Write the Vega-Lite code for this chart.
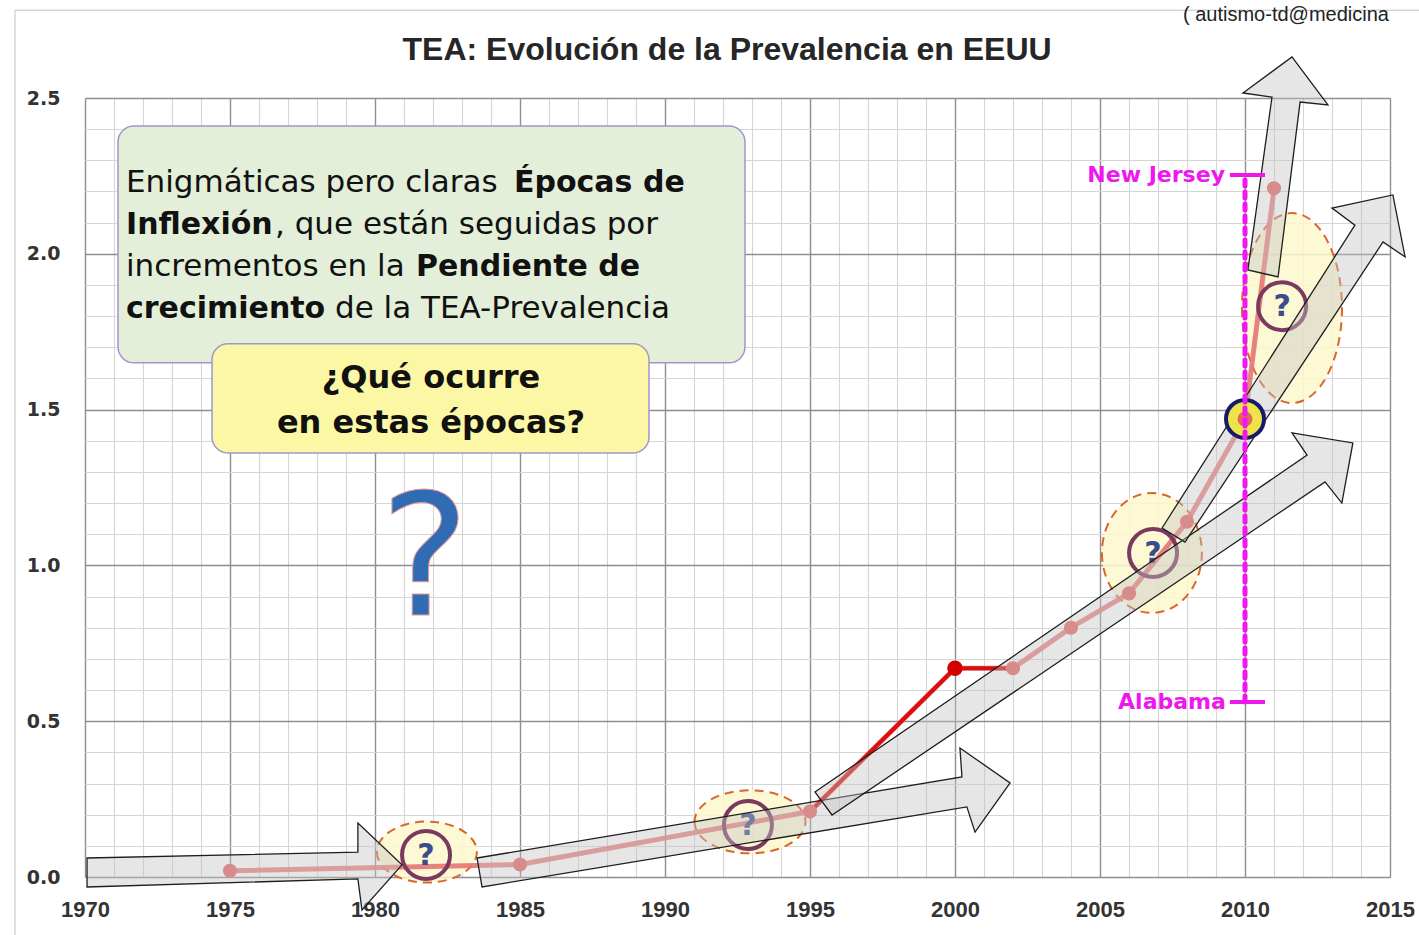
{
  "$schema": "https://vega.github.io/schema/vega-lite/v6.json",
  "width": 1305,
  "height": 779,
  "autosize": "none",
  "padding": {"left": 85, "top": 98, "right": 29, "bottom": 58},
  "background": "white",
  "config": {"view": {"stroke": null}},
  "datasets": {
    "serie": [
      {"year": 1975, "value": 0.02},
      {"year": 1985, "value": 0.04},
      {"year": 1995, "value": 0.21},
      {"year": 2000, "value": 0.67},
      {"year": 2002, "value": 0.67},
      {"year": 2004, "value": 0.80},
      {"year": 2006, "value": 0.91},
      {"year": 2008, "value": 1.14},
      {"year": 2010, "value": 1.47},
      {"year": 2011, "value": 2.21}
    ],
    "pico": [
      {"year": 1995, "value": 0.21},
      {"year": 2000, "value": 0.67},
      {"year": 2002, "value": 0.67}
    ],
    "flechas": [
      {"flecha": "A", "i": 1, "year": 1970.07, "value": 0.061},
      {"flecha": "A", "i": 2, "year": 1979.41, "value": 0.080},
      {"flecha": "A", "i": 3, "year": 1979.41, "value": 0.173},
      {"flecha": "A", "i": 4, "year": 1980.93, "value": 0.039},
      {"flecha": "A", "i": 5, "year": 1979.55, "value": -0.106},
      {"flecha": "A", "i": 6, "year": 1979.41, "value": -0.006},
      {"flecha": "A", "i": 7, "year": 1970.07, "value": -0.032},
      {"flecha": "B", "i": 1, "year": 1983.52, "value": 0.061},
      {"flecha": "B", "i": 2, "year": 2000.24, "value": 0.321},
      {"flecha": "B", "i": 3, "year": 2000.17, "value": 0.414},
      {"flecha": "B", "i": 4, "year": 2001.90, "value": 0.302},
      {"flecha": "B", "i": 5, "year": 2000.69, "value": 0.144},
      {"flecha": "B", "i": 6, "year": 2000.41, "value": 0.225},
      {"flecha": "B", "i": 7, "year": 1983.69, "value": -0.032},
      {"flecha": "C", "i": 1, "year": 1995.17, "value": 0.273},
      {"flecha": "C", "i": 2, "year": 2012.14, "value": 1.354},
      {"flecha": "C", "i": 3, "year": 2011.62, "value": 1.425},
      {"flecha": "C", "i": 4, "year": 2013.72, "value": 1.393},
      {"flecha": "C", "i": 5, "year": 2013.34, "value": 1.200},
      {"flecha": "C", "i": 6, "year": 2012.76, "value": 1.268},
      {"flecha": "C", "i": 7, "year": 1995.76, "value": 0.199},
      {"flecha": "D", "i": 1, "year": 2007.14, "value": 1.120},
      {"flecha": "D", "i": 2, "year": 2013.79, "value": 2.092},
      {"flecha": "D", "i": 3, "year": 2013.00, "value": 2.147},
      {"flecha": "D", "i": 4, "year": 2015.10, "value": 2.189},
      {"flecha": "D", "i": 5, "year": 2015.52, "value": 1.990},
      {"flecha": "D", "i": 6, "year": 2014.76, "value": 2.038},
      {"flecha": "D", "i": 7, "year": 2007.93, "value": 1.075},
      {"flecha": "E", "i": 1, "year": 2010.10, "value": 1.948},
      {"flecha": "E", "i": 2, "year": 2010.93, "value": 2.503},
      {"flecha": "E", "i": 3, "year": 2009.93, "value": 2.516},
      {"flecha": "E", "i": 4, "year": 2011.62, "value": 2.632},
      {"flecha": "E", "i": 5, "year": 2012.86, "value": 2.478},
      {"flecha": "E", "i": 6, "year": 2011.90, "value": 2.487},
      {"flecha": "E", "i": 7, "year": 2011.14, "value": 1.926}
    ],
    "elipses": [
      {"id": "e1", "year": 1981.79, "value": 0.080},
      {"id": "e2", "year": 1992.93, "value": 0.177},
      {"id": "e3", "year": 2006.79, "value": 1.040},
      {"id": "e4", "year": 2011.62, "value": 1.826}
    ],
    "preguntas": [
      {"year": 1981.76, "value": 0.071, "signo": "?"},
      {"year": 1992.86, "value": 0.167, "signo": "?"},
      {"year": 2006.83, "value": 1.040, "signo": "?"},
      {"year": 2011.28, "value": 1.832, "signo": "?"}
    ],
    "cajas": [
      {"caja": "verde", "year": 1971.138, "year2": 1992.759, "value": 2.410, "value2": 1.650},
      {"caja": "amarilla", "year": 1974.379, "year2": 1989.448, "value": 1.711, "value2": 1.361}
    ],
    "marco": [
      {"year": 1967.586, "year2": 2016.6, "value": 2.782, "value2": -0.3}
    ],
    "titulo": [
      {"texto": "TEA: Evolución de la Prevalencia en EEUU", "year": 1992.14, "value": 2.622}
    ],
    "normal": [
      {"texto": "Enigmáticas pero claras", "year": 1971.414, "value": 2.198},
      {"texto": ", que están seguidas por", "year": 1976.55, "value": 2.064},
      {"texto": "incrementos en la", "year": 1971.414, "value": 1.929},
      {"texto": "de la TEA-Prevalencia", "year": 1978.621, "value": 1.794}
    ],
    "negrita": [
      {"texto": "Épocas de", "year": 1984.793, "value": 2.198},
      {"texto": "Inflexión", "year": 1971.414, "value": 2.064},
      {"texto": "Pendiente de", "year": 1981.414, "value": 1.929},
      {"texto": "crecimiento", "year": 1971.414, "value": 1.794}
    ],
    "pregunta": [
      {"texto": "¿Qué ocurre", "year": 1981.931, "value": 1.569},
      {"texto": "en estas épocas?", "year": 1981.931, "value": 1.425}
    ],
    "rango": [
      {"year": 2010, "value": 0.562, "value2": 2.253}
    ],
    "extremos": [
      {"estado": "New Jersey", "year": 2009.48, "year2": 2010.69, "value": 2.253, "ly": 2009.31},
      {"estado": "Alabama", "year": 2009.48, "year2": 2010.69, "value": 0.562, "ly": 2009.34}
    ],
    "fuente": [
      {"texto": "( autismo-td@medicina", "year": 2007.862, "value": 2.747}
    ],
    "grande": [
      {"texto": "?", "year": 1981.72, "value": 0.841}
    ]
  },
  "encoding": {
    "x": {
      "field": "year",
      "type": "quantitative",
      "scale": {"domain": [1970, 2015], "nice": false, "zero": false},
      "axis": {
        "title": null,
        "values": [1970,1971,1972,1973,1974,1975,1976,1977,1978,1979,1980,1981,1982,1983,1984,1985,1986,1987,1988,1989,1990,1991,1992,1993,1994,1995,1996,1997,1998,1999,2000,2001,2002,2003,2004,2005,2006,2007,2008,2009,2010,2011,2012,2013,2014,2015],
        "labelExpr": "datum.value % 5 === 0 ? format(datum.value, 'd') : ''",
        "labelOverlap": false,
        "labelFlush": false,
        "labelFont": "Liberation Sans",
        "labelFontSize": 22,
        "labelFontWeight": "bold",
        "labelColor": "#333333",
        "labelPadding": 22,
        "ticks": false,
        "domain": false,
        "grid": true,
        "gridColor": {"condition": {"test": "datum.value % 5 === 0", "value": "#8e8e8e"}, "value": "#d5d5d5"},
        "gridWidth": {"condition": {"test": "datum.value % 5 === 0", "value": 1.4}, "value": 1.1},
        "gridOpacity": 1
      }
    },
    "y": {
      "field": "value",
      "type": "quantitative",
      "scale": {"domain": [0, 2.5], "nice": false, "zero": false},
      "axis": {
        "title": null,
        "values": [0,0.1,0.2,0.3,0.4,0.5,0.6,0.7,0.8,0.9,1.0,1.1,1.2,1.3,1.4,1.5,1.6,1.7,1.8,1.9,2.0,2.1,2.2,2.3,2.4,2.5],
        "labelExpr": "abs(datum.value*2 - round(datum.value*2)) < 0.001 ? format(datum.value, '.1f') : ''",
        "labelOverlap": false,
        "labelFlush": false,
        "labelFont": "DejaVu Sans",
        "labelFontSize": 19,
        "labelFontWeight": "bold",
        "labelColor": "#333333",
        "labelPadding": 25,
        "ticks": false,
        "domain": false,
        "grid": true,
        "gridColor": {"condition": {"test": "abs(datum.value*2 - round(datum.value*2)) < 0.001", "value": "#8e8e8e"}, "value": "#d5d5d5"},
        "gridWidth": {"condition": {"test": "abs(datum.value*2 - round(datum.value*2)) < 0.001", "value": 1.4}, "value": 1.1},
        "gridOpacity": 1
      }
    }
  },
  "layer": [
    {
      "data": {"name": "marco"},
      "mark": {"type": "rect", "fill": "transparent", "stroke": "#d6d6d6", "strokeWidth": 1.5},
      "encoding": {"x2": {"field": "year2"}, "y2": {"field": "value2"}}
    },
    {
      "data": {"name": "cajas"},
      "transform": [{"filter": "datum.caja === 'verde'"}],
      "mark": {"type": "rect", "fill": "#e3efd9", "stroke": "#a395cc", "strokeWidth": 1.5, "cornerRadius": 16},
      "encoding": {"x2": {"field": "year2"}, "y2": {"field": "value2"}}
    },
    {
      "data": {"name": "cajas"},
      "transform": [{"filter": "datum.caja === 'amarilla'"}],
      "mark": {"type": "rect", "fill": "#fcf7a4", "stroke": "#a395cc", "strokeWidth": 1.5, "cornerRadius": 16},
      "encoding": {"x2": {"field": "year2"}, "y2": {"field": "value2"}}
    },
    {
      "data": {"name": "elipses"},
      "mark": {"type": "point", "filled": true, "size": 4, "fill": "#fdf8cc", "fillOpacity": 0.85, "stroke": "#d9662f", "strokeWidth": 2, "strokeDash": [9, 6], "opacity": 1},
      "encoding": {
        "shape": {
          "field": "id",
          "type": "nominal",
          "legend": null,
          "scale": {
            "domain": ["e1", "e2", "e3", "e4"],
            "range": [
              "M-50,0A50,30.5,0,1,0,50,0A50,30.5,0,1,0,-50,0Z",
              "M-55.5,0A55.5,31.5,0,1,0,55.5,0A55.5,31.5,0,1,0,-55.5,0Z",
              "M-50,0A50,60,0,1,0,50,0A50,60,0,1,0,-50,0Z",
              "M-50,0A50,95,0,1,0,50,0A50,95,0,1,0,-50,0Z"
            ]
          }
        }
      }
    },
    {
      "data": {"name": "serie"},
      "mark": {"type": "line", "color": "#e67474", "strokeWidth": 5, "opacity": 0.9}
    },
    {
      "data": {"name": "pico"},
      "mark": {"type": "line", "color": "#d90f0f", "strokeWidth": 4}
    },
    {
      "data": {"name": "serie"},
      "transform": [{"filter": "datum.year !== 2000"}],
      "mark": {"type": "point", "filled": true, "color": "#e56262", "size": 200, "opacity": 1}
    },
    {
      "data": {"name": "pico"},
      "transform": [{"filter": "datum.year === 2000"}],
      "mark": {"type": "point", "filled": true, "color": "#d40000", "size": 240, "opacity": 1}
    },
    {
      "data": {"name": "preguntas"},
      "mark": {"type": "point", "shape": "circle", "filled": false, "fill": "transparent", "stroke": "#7a3a60", "strokeWidth": 4, "size": 2304, "opacity": 1}
    },
    {
      "data": {"name": "preguntas"},
      "mark": {"type": "text", "font": "DejaVu Sans", "fontSize": 30, "fontWeight": "bold", "color": "#3c4b8c", "align": "center", "baseline": "middle", "dy": 1},
      "encoding": {"text": {"field": "signo"}}
    },
    {
      "data": {"name": "flechas"},
      "mark": {"type": "line", "interpolate": "linear-closed", "fill": "#c4c4c4", "fillOpacity": 0.42, "stroke": "#1e1e1e", "strokeWidth": 1.3},
      "encoding": {
        "detail": {"field": "flecha", "type": "nominal"},
        "order": {"field": "i", "type": "quantitative"}
      }
    },
    {
      "data": {"name": "serie"},
      "transform": [{"filter": "datum.year === 2010"}],
      "mark": {"type": "point", "shape": "circle", "filled": true, "fill": "#efe34a", "stroke": "#151b6c", "strokeWidth": 4, "size": 1444, "opacity": 1}
    },
    {
      "data": {"name": "serie"},
      "transform": [{"filter": "datum.year === 2010"}],
      "mark": {"type": "point", "filled": true, "color": "#e56262", "size": 220, "opacity": 1}
    },
    {
      "data": {"name": "rango"},
      "mark": {"type": "rule", "color": "#ee18ee", "strokeWidth": 5, "strokeDash": [6, 6], "strokeCap": "round"},
      "encoding": {"y2": {"field": "value2"}}
    },
    {
      "data": {"name": "extremos"},
      "mark": {"type": "rule", "color": "#ee18ee", "strokeWidth": 4},
      "encoding": {"x2": {"field": "year2"}}
    },
    {
      "data": {"name": "extremos"},
      "mark": {"type": "text", "font": "DejaVu Sans", "fontSize": 22, "fontWeight": "bold", "color": "#ee18ee", "align": "right", "baseline": "middle"},
      "encoding": {"x": {"field": "ly", "type": "quantitative"}, "text": {"field": "estado"}}
    },
    {
      "data": {"name": "normal"},
      "mark": {"type": "text", "font": "DejaVu Sans", "fontSize": 31, "color": "#111111", "align": "left", "baseline": "alphabetic"},
      "encoding": {"text": {"field": "texto"}}
    },
    {
      "data": {"name": "negrita"},
      "mark": {"type": "text", "font": "DejaVu Sans", "fontSize": 30, "fontWeight": "bold", "color": "#111111", "align": "left", "baseline": "alphabetic"},
      "encoding": {"text": {"field": "texto"}}
    },
    {
      "data": {"name": "pregunta"},
      "mark": {"type": "text", "font": "DejaVu Sans", "fontSize": 32, "fontWeight": "bold", "color": "#111111", "align": "center", "baseline": "alphabetic"},
      "encoding": {"text": {"field": "texto"}}
    },
    {
      "data": {"name": "grande"},
      "mark": {"type": "text", "font": "DejaVu Sans", "fontSize": 170, "color": "#2f6cb3", "stroke": "#e89a9a", "strokeWidth": 1, "align": "center", "baseline": "alphabetic"},
      "encoding": {"text": {"field": "texto"}}
    },
    {
      "data": {"name": "titulo"},
      "mark": {"type": "text", "font": "Liberation Sans", "fontSize": 32, "fontWeight": "bold", "color": "#262626", "align": "center", "baseline": "alphabetic"},
      "encoding": {"text": {"field": "texto"}}
    },
    {
      "data": {"name": "fuente"},
      "mark": {"type": "text", "font": "Liberation Sans", "fontSize": 20, "color": "#222222", "align": "left", "baseline": "alphabetic"},
      "encoding": {"text": {"field": "texto"}}
    }
  ]
}
